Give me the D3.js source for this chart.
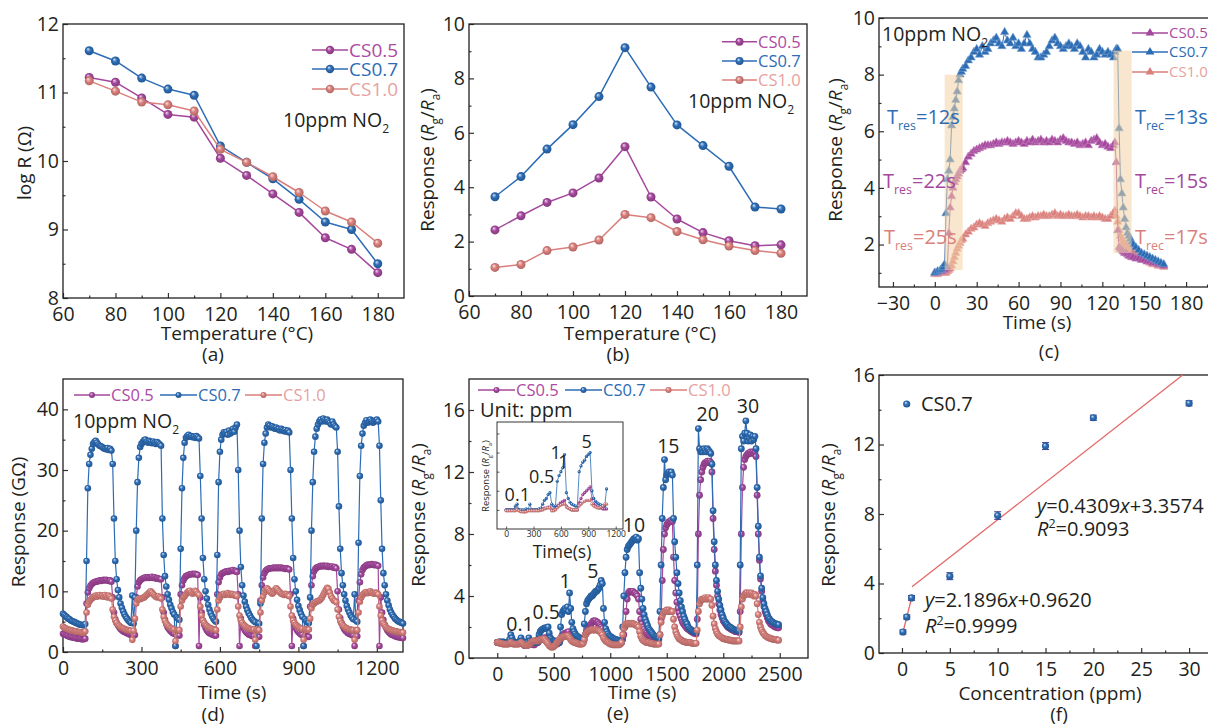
<!DOCTYPE html>
<html lang="en">
<head>
<meta charset="UTF-8">
<title>NO2 sensing panels</title>
<script src="https://d3js.org/d3.v7.min.js"></script>
<style>
  body { margin: 0; background: #fff; }
  svg { display: block; font-family: "Open Sans", sans-serif; }
  .tick text { font-family: "Open Sans", sans-serif; font-size: 19.5px; fill: #231f20; }
  .tick line { stroke: #333; stroke-width: 1.2; }
  .inset .tick text { font-size: 8.5px; }
  .inset .tick line { stroke-width: 0.8; }
</style>
</head>
<body>
<svg></svg>
<script>
// ---------- data ----------
var seriesNames = ["CS0.5", "CS0.7", "CS1.0"];

// (a) log R vs temperature, (b) response vs temperature
var tempC = [70, 80, 90, 100, 110, 120, 130, 140, 150, 160, 170, 180];
var logR_CS05 = [11.22, 11.15, 10.92, 10.68, 10.64, 10.04, 9.79, 9.52, 9.25, 8.88, 8.71, 8.37];
var logR_CS07 = [11.61, 11.46, 11.21, 11.05, 10.96, 10.22, 9.98, 9.74, 9.44, 9.11, 9.00, 8.50];
var logR_CS10 = [11.17, 11.02, 10.86, 10.82, 10.73, 10.17, 9.98, 9.77, 9.54, 9.27, 9.11, 8.80];
var resp_CS05 = [2.43, 2.95, 3.44, 3.79, 4.34, 5.49, 3.64, 2.83, 2.33, 2.03, 1.85, 1.88];
var resp_CS07 = [3.65, 4.39, 5.40, 6.30, 7.33, 9.13, 7.68, 6.29, 5.53, 4.77, 3.27, 3.20];
var resp_CS10 = [1.05, 1.16, 1.67, 1.80, 2.06, 3.00, 2.88, 2.37, 2.07, 1.84, 1.67, 1.57];

// (c) single response/recovery cycle, 10 ppm
var cTime = [0, 2, 4, 5, 6, 7, 8, 9, 10, 11, 12, 13, 14, 15, 16, 17, 18, 19, 20,
  22, 24, 26, 28, 30, 32, 34, 36, 38, 40, 42, 44, 46, 48, 50, 52, 54, 56, 58, 60,
  62, 64, 66, 68, 70, 72, 74, 76, 78, 80, 82, 84, 86, 88, 90, 92, 94, 96, 98, 100,
  102, 104, 106, 108, 110, 112, 114, 116, 118, 120, 122, 124, 126,
  128, 129, 130, 131, 132, 133, 134, 135, 136, 137, 138, 139, 140, 141, 142,
  144, 146, 148, 150, 152, 154, 156, 158, 160, 162, 164];
var c_CS07 = [1.0, 1.05, 1.1, 1.15, 1.2, 1.3, 3.1, 4.3, 4.6, 5.0, 6.2, 6.5, 6.8, 7.1, 7.4, 7.8, 8.0, 8.1, 8.2,
  8.3, 8.5, 8.6, 8.8, 8.9, 8.7, 9.0, 8.8, 8.9, 9.1, 9.2, 9.3, 9.1, 9.0, 9.5, 9.2, 9.1, 9.3, 9.0, 9.1,
  8.9, 9.1, 9.4, 9.1, 8.9, 8.8, 8.6, 8.6, 8.7, 8.8, 9.0, 9.2, 9.3, 9.1, 9.0, 8.9, 9.0, 9.1, 9.0, 8.9,
  9.1, 9.0, 8.8, 8.6, 8.9, 8.8, 8.6, 8.7, 8.9, 8.8, 8.7, 8.8, 8.7,
  8.6, 8.8, 8.9, 8.9, 6.1, 4.3, 3.8, 3.3, 2.9, 2.6, 2.4, 2.3, 2.2, 2.1, 2.0,
  1.9, 1.8, 1.7, 1.65, 1.6, 1.55, 1.5, 1.45, 1.4, 1.35, 1.3];
var c_CS05 = [1.0, 1.0, 1.05, 1.05, 1.1, 1.1, 1.15, 1.2, 2.4, 3.3, 3.7, 4.0, 4.2, 4.3, 4.4, 4.5, 4.6, 4.65, 4.7,
  4.9, 5.1, 5.2, 5.3, 5.35, 5.4, 5.45, 5.5, 5.5, 5.5, 5.55, 5.6, 5.55, 5.6, 5.6, 5.65, 5.6, 5.55, 5.6, 5.65,
  5.6, 5.55, 5.65, 5.6, 5.7, 5.6, 5.65, 5.7, 5.6, 5.65, 5.6, 5.7, 5.65, 5.6, 5.7, 5.75, 5.65, 5.6, 5.6, 5.55,
  5.6, 5.5, 5.55, 5.6, 5.5, 5.65, 5.7, 5.75, 5.6, 5.5, 5.55, 5.45, 5.4,
  5.5, 5.6, 4.9, 2.5, 1.9, 1.85, 1.8, 1.75, 1.7, 1.7, 1.65, 1.6, 1.6, 1.55, 1.55,
  1.5, 1.5, 1.45, 1.45, 1.4, 1.4, 1.35, 1.35, 1.3, 1.3, 1.25];
var c_CS10 = [0.95, 0.95, 1.0, 1.0, 1.0, 1.0, 1.0, 1.05, 1.1, 1.15, 1.25, 1.4, 1.55, 1.7, 1.85, 1.95, 2.05, 2.15, 2.2,
  2.35, 2.45, 2.55, 2.6, 2.7, 2.75, 2.7, 2.65, 2.75, 2.8, 2.85, 2.9, 2.85, 2.8, 2.9, 2.95, 2.9, 3.0, 3.1, 3.1,
  3.0, 2.9, 2.9, 2.95, 3.0, 2.95, 3.0, 3.0, 3.05, 3.0, 3.0, 3.05, 3.1, 3.0, 3.05, 3.0, 3.0, 3.05, 3.0, 3.0,
  3.05, 3.0, 2.95, 3.0, 3.0, 2.95, 3.0, 2.95, 3.0, 2.95, 2.9, 2.9, 3.0,
  3.1, 3.2, 3.0, 2.8, 2.5, 2.3, 2.2, 2.1, 2.05, 2.0, 1.95, 1.9, 1.85, 1.8, 1.75,
  1.65, 1.6, 1.5, 1.45, 1.4, 1.35, 1.3, 1.3, 1.25, 1.25, 1.2];
var cWindows = [[7, 20, 1.1, 8.0], [128, 141, 1.7, 8.85]];   // t0, t1, y0, y1

// (d) repeated cycles, sampled every dStep seconds from 0
var dStep = 5;
var d_CS07 = [
  6.3, 6.1, 5.9, 5.7, 5.5, 5.4, 5.2, 5.1, 5.0, 4.9, 4.8, 4.7, 4.6, 4.5, 4.5, 4.4, 4.4, 4.6, 15.0, 27.0,
  31.0, 32.5, 33.5, 34.3, 34.6, 34.8, 34.5, 34.2, 34.0, 33.9, 33.8, 33.6, 33.5, 33.4, 33.6, 33.3, 33.5, 33.2, 31.0, 22.0,
  15.0, 12.0, 10.2, 9.0, 8.0, 7.3, 6.7, 6.2, 5.8, 5.5, 5.2, 5.0, 4.8, 9.3, 4.7, 9.0, 20.0, 28.0, 32.0, 33.8,
  34.3, 34.6, 34.9, 35.0, 34.7, 34.5, 34.8, 34.6, 34.4, 34.7, 34.5, 34.3, 34.6, 34.4, 34.2, 34.0, 22.0, 16.0, 12.5, 10.8,
  9.5, 8.6, 7.8, 7.2, 6.6, 6.2, 1.0, 5.7, 5.5, 5.3, 17.0, 27.0, 32.0, 34.5, 35.3, 35.6, 35.8, 35.5, 35.6, 35.4,
  35.5, 35.3, 35.6, 35.4, 35.2, 29.0, 22.0, 15.5, 12.0, 10.0, 8.8, 7.8, 7.0, 6.4, 5.9, 5.5, 5.2, 5.0, 16.0, 28.0,
  33.0, 35.0, 35.8, 36.2, 36.0, 36.3, 35.8, 36.5, 36.0, 36.4, 36.8, 36.3, 37.0, 37.5, 30.0, 20.0, 14.0, 11.0, 9.3, 8.3,
  7.5, 6.9, 6.4, 6.0, 5.6, 5.3, 5.1, 4.9, 1.0, 4.8, 4.7, 8.0, 22.0, 31.0, 34.5, 36.0, 37.0, 37.5, 37.3, 37.0,
  37.2, 37.0, 36.8, 37.0, 36.7, 36.8, 36.5, 36.8, 36.6, 36.4, 36.6, 36.3, 36.5, 36.2, 30.0, 22.0, 15.5, 12.0, 10.0, 8.6,
  7.6, 6.9, 6.3, 5.8, 1.0, 5.4, 5.1, 4.9, 4.8, 9.0, 20.0, 28.0, 33.0, 35.5, 36.8, 37.5, 38.0, 38.3, 38.0, 38.5,
  38.2, 38.0, 38.3, 38.0, 37.8, 37.5, 38.0, 37.5, 37.2, 37.0, 33.0, 24.0, 17.0, 13.0, 11.0, 9.5, 8.5, 7.6, 7.0, 6.5,
  6.0, 5.7, 5.4, 9.5, 5.2, 5.0, 18.0, 29.0, 34.0, 36.0, 37.3, 37.8, 38.2, 37.8, 38.0, 38.3, 38.0, 37.8, 38.0, 38.2,
  38.3, 38.0, 34.0, 25.0, 17.0, 13.0, 11.0, 9.5, 8.5, 7.7, 7.0, 6.5, 6.1, 5.8, 5.5, 5.3, 5.1, 5.0, 4.9, 4.8,
  4.7];
var d_CS05 = [
  3.0, 2.9, 2.8, 2.7, 2.6, 2.5, 2.5, 2.4, 2.4, 2.3, 2.3, 2.2, 2.2, 2.2, 2.1, 2.1, 2.1, 2.2, 8.0, 9.8,
  10.5, 10.9, 11.2, 11.4, 11.5, 11.6, 11.6, 11.7, 11.8, 11.7, 11.8, 11.9, 11.8, 11.9, 11.8, 11.7, 11.8, 11.6, 9.0, 6.5,
  5.4, 4.8, 4.4, 4.1, 3.8, 3.6, 3.4, 3.3, 3.2, 3.1, 3.0, 2.9, 2.8, 2.8, 2.7, 2.8, 9.0, 10.8, 11.5, 11.8,
  12.0, 12.1, 12.2, 12.3, 12.2, 12.3, 12.2, 12.3, 12.4, 12.2, 12.3, 12.1, 12.2, 12.1, 12.0, 12.0, 9.0, 6.5, 5.3, 4.6,
  4.1, 3.8, 3.5, 3.3, 3.1, 3.0, 1.0, 2.9, 2.8, 2.7, 9.5, 11.0, 11.8, 12.2, 12.5, 12.6, 12.7, 12.8, 12.8, 12.9,
  12.8, 12.9, 12.8, 12.7, 1.0, 9.0, 6.5, 5.2, 4.5, 4.0, 3.6, 3.3, 3.1, 3.0, 2.9, 2.8, 2.7, 2.7, 9.5, 11.5,
  12.3, 12.8, 13.0, 13.1, 13.2, 13.3, 13.2, 13.4, 13.3, 13.4, 13.5, 13.3, 13.4, 13.2, 9.5, 1.0, 5.5, 4.6, 4.0, 3.6,
  3.3, 3.1, 2.9, 2.8, 2.7, 2.6, 2.6, 1.0, 2.5, 2.5, 2.5, 8.5, 11.0, 12.3, 13.0, 13.4, 13.6, 13.7, 13.8, 13.8,
  13.8, 13.9, 13.8, 13.9, 13.8, 13.9, 13.8, 13.9, 13.8, 13.8, 13.7, 13.8, 13.7, 13.6, 9.5, 1.0, 5.5, 4.6, 4.0, 3.6,
  3.3, 3.1, 2.9, 2.8, 1.0, 2.7, 2.6, 2.5, 2.5, 7.5, 11.0, 12.5, 13.3, 13.7, 13.9, 14.0, 14.1, 14.2, 14.1, 14.2,
  14.2, 14.1, 14.2, 14.0, 14.1, 14.0, 14.1, 13.9, 14.0, 13.8, 10.0, 7.0, 5.6, 4.8, 4.2, 3.8, 3.5, 3.3, 3.1, 3.0,
  2.9, 2.8, 2.7, 1.0, 2.7, 2.6, 8.5, 11.5, 12.8, 13.5, 13.9, 14.1, 14.3, 14.4, 14.3, 14.4, 14.5, 14.4, 14.3, 14.4,
  14.3, 14.2, 1.0, 9.0, 6.5, 5.3, 4.5, 4.0, 3.6, 3.3, 3.1, 2.9, 2.8, 2.7, 2.6, 2.5, 2.5, 2.4, 2.4, 2.3,
  2.3];
var d_CS10 = [
  4.2, 4.0, 3.9, 3.8, 3.7, 3.6, 3.6, 3.5, 3.5, 3.4, 3.4, 3.3, 3.3, 3.3, 3.2, 3.2, 3.2, 3.4, 6.5, 7.8,
  8.3, 8.6, 8.8, 9.0, 9.2, 9.3, 9.1, 9.3, 9.4, 9.2, 9.3, 9.1, 9.4, 9.2, 9.0, 9.3, 9.1, 8.8, 7.0, 5.8,
  5.2, 4.8, 4.5, 4.3, 4.1, 4.0, 3.9, 3.8, 3.7, 3.6, 3.6, 3.5, 3.5, 2.0, 3.5, 5.5, 8.0, 8.6, 8.8, 8.7,
  8.8, 8.9, 9.0, 9.2, 9.4, 9.6, 9.8, 10.0, 9.8, 9.5, 9.3, 9.1, 9.0, 9.2, 9.0, 8.8, 7.0, 5.8, 5.1, 4.7,
  4.4, 4.2, 4.0, 3.9, 3.8, 3.7, 1.8, 3.6, 3.6, 3.6, 7.5, 8.5, 9.0, 9.2, 9.5, 9.8, 10.0, 10.1, 9.8, 9.6,
  9.8, 10.1, 9.9, 9.6, 9.4, 7.5, 6.0, 5.2, 4.8, 4.5, 4.3, 4.1, 4.0, 3.9, 3.8, 3.7, 3.7, 3.6, 7.0, 8.5,
  9.0, 9.3, 9.5, 9.6, 9.4, 9.5, 9.7, 9.5, 9.4, 9.6, 9.5, 9.3, 9.4, 9.2, 7.5, 6.0, 5.2, 4.8, 4.5, 4.3,
  4.1, 4.0, 3.9, 3.8, 3.8, 3.7, 3.7, 2.0, 3.7, 3.6, 3.6, 6.5, 8.5, 9.2, 9.8, 10.2, 10.5, 10.3, 10.0, 9.8,
  9.6, 9.8, 10.2, 10.5, 10.3, 10.0, 9.8, 9.6, 9.5, 9.4, 9.6, 9.5, 9.3, 9.2, 7.5, 6.0, 5.2, 4.8, 4.5, 4.3,
  4.1, 4.0, 3.9, 3.8, 2.0, 3.8, 3.7, 3.7, 3.7, 5.5, 7.2, 7.8, 8.0, 8.2, 8.3, 8.4, 8.5, 8.7, 9.0, 9.4,
  9.8, 10.2, 10.6, 10.4, 9.8, 9.2, 8.8, 8.5, 8.4, 8.2, 7.0, 5.8, 5.1, 4.7, 4.4, 4.2, 4.0, 3.9, 3.8, 3.7,
  3.7, 3.6, 3.6, 2.0, 3.6, 3.6, 6.5, 8.3, 9.0, 9.4, 9.6, 9.8, 9.9, 9.7, 9.8, 10.0, 9.8, 9.7, 9.6, 9.8,
  9.7, 9.5, 7.5, 6.0, 5.2, 4.7, 4.4, 4.1, 3.9, 3.8, 3.7, 3.6, 3.5, 3.5, 3.4, 3.4, 3.3, 3.3, 3.3, 3.2,
  3.2];

// (e) increasing concentrations, sampled every eStep seconds from 0
var eStep = 10;
var e_CS07 = [
  1.0, 1.0, 1.05, 1.0, 1.0, 1.05, 1.0, 1.0, 1.0, 1.0, 1.05, 1.2, 1.5, 1.3, 1.1, 1.0, 1.0, 1.0, 1.0, 1.0,
  1.1, 1.3, 1.1, 1.0, 1.0, 1.0, 1.0, 1.05, 1.3, 1.1, 1.0, 1.0, 1.0, 1.0, 1.0, 1.0, 1.2, 1.5, 1.7, 1.8,
  1.85, 1.9, 1.95, 1.95, 1.9, 2.0, 1.6, 1.3, 1.2, 1.1, 1.1, 1.1, 1.05, 1.0, 1.0, 1.0, 2.0, 2.8, 3.0, 3.1,
  3.2, 3.1, 3.3, 3.0, 4.2, 3.2, 2.3, 1.9, 1.7, 1.55, 1.45, 1.4, 1.35, 1.3, 1.25, 1.2, 1.2, 2.2, 3.0, 3.5,
  3.7, 3.8, 3.9, 4.0, 4.0, 4.1, 4.2, 4.3, 4.3, 4.4, 4.5, 4.7, 5.0, 4.8, 3.2, 2.3, 1.9, 1.7, 1.55, 1.45,
  1.4, 1.35, 1.3, 1.25, 1.2, 1.2, 1.15, 1.15, 1.1, 1.1, 1.1, 2.0, 4.0, 5.5, 6.5, 7.0, 7.2, 7.3, 7.4, 7.5,
  7.6, 7.7, 7.7, 7.8, 7.6, 7.7, 5.5, 4.5, 3.8, 3.2, 2.8, 2.5, 2.3, 2.1, 1.9, 1.8, 1.7, 1.6, 1.5, 1.4,
  1.4, 1.35, 1.3, 1.3, 3.0, 6.0, 9.0, 11.0, 12.8, 11.5, 11.8, 11.9, 12.0, 11.9, 12.0, 11.8, 9.0, 7.5, 6.5, 5.5,
  4.8, 4.2, 3.7, 3.3, 3.0, 2.7, 2.5, 2.3, 2.2, 2.0, 1.9, 1.85, 1.8, 1.75, 1.7, 1.7, 1.65, 6.0, 14.8, 13.5,
  13.3, 13.4, 13.3, 13.5, 13.4, 13.3, 13.5, 13.4, 13.3, 13.2, 12.5, 9.5, 7.5, 6.0, 5.0, 4.3, 3.8, 3.4, 3.1, 2.8,
  2.6, 2.4, 2.3, 2.2, 2.1, 2.0, 2.0, 1.95, 1.9, 1.85, 1.8, 1.8, 1.8, 1.8, 1.75, 6.0, 13.5, 14.3, 14.0, 14.5,
  15.3, 14.5, 14.0, 14.2, 14.4, 14.0, 14.3, 14.1, 14.3, 13.5, 11.0, 8.5, 6.5, 5.3, 4.5, 3.9, 3.5, 3.2, 3.0, 2.8,
  2.6, 2.5, 2.4, 2.35, 2.3, 2.25, 2.2, 2.2, 2.15, 2.15];
var e_CS05 = [
  1.0, 1.0, 1.0, 1.0, 1.0, 1.0, 1.0, 1.0, 1.0, 1.0, 1.0, 1.05, 1.1, 1.05, 1.0, 1.0, 0.95, 0.95, 1.0, 1.0,
  1.0, 1.0, 1.0, 0.9, 0.8, 0.8, 0.8, 0.9, 1.0, 1.0, 1.0, 0.9, 0.85, 0.85, 1.0, 1.0, 1.0, 1.1, 1.2, 1.2,
  1.25, 1.3, 1.3, 1.3, 1.3, 1.3, 1.2, 1.1, 1.0, 0.95, 0.9, 0.9, 0.9, 0.9, 0.95, 1.0, 1.2, 1.4, 1.5, 1.55,
  1.6, 1.6, 1.65, 1.7, 1.5, 1.3, 1.2, 1.15, 1.1, 1.05, 1.0, 1.0, 1.0, 1.0, 1.0, 1.0, 1.0, 1.2, 1.5, 1.7,
  1.9, 2.0, 2.1, 2.2, 2.3, 2.4, 2.4, 2.4, 2.3, 2.3, 2.2, 2.1, 2.0, 1.9, 1.6, 1.4, 1.3, 1.25, 1.2, 1.15,
  1.1, 1.1, 1.05, 1.05, 1.0, 1.0, 1.0, 1.0, 1.0, 1.0, 1.0, 1.2, 1.5, 2.0, 3.0, 3.8, 4.2, 4.3, 4.3, 4.3,
  4.3, 4.2, 4.2, 4.1, 4.0, 3.8, 3.0, 2.5, 2.2, 2.0, 1.85, 1.7, 1.6, 1.5, 1.45, 1.4, 1.35, 1.3, 1.3, 1.25,
  1.25, 1.2, 1.2, 1.2, 1.5, 2.5, 5.0, 7.0, 8.0, 8.4, 8.6, 8.7, 8.8, 8.8, 8.9, 8.8, 6.5, 5.0, 4.2, 3.6,
  3.2, 2.9, 2.7, 2.5, 2.3, 2.2, 2.1, 2.0, 1.9, 1.85, 1.8, 1.75, 1.7, 1.65, 1.6, 1.6, 1.55, 2.5, 8.0, 10.5,
  11.5, 12.0, 12.3, 12.5, 12.6, 12.6, 12.7, 12.6, 12.7, 12.6, 12.0, 9.0, 7.0, 5.6, 4.7, 4.0, 3.5, 3.1, 2.8, 2.6,
  2.4, 2.3, 2.2, 2.1, 2.0, 1.95, 1.9, 1.85, 1.8, 1.8, 1.75, 1.7, 1.7, 1.7, 1.65, 3.0, 8.0, 11.0, 12.3, 12.8,
  13.0, 13.1, 13.2, 13.2, 13.3, 13.2, 13.3, 13.2, 13.3, 13.0, 10.5, 8.0, 6.3, 5.1, 4.3, 3.7, 3.3, 3.0, 2.8, 2.6,
  2.4, 2.3, 2.2, 2.15, 2.1, 2.05, 2.0, 2.0, 1.95, 1.95];
var e_CS10 = [
  1.0, 1.0, 0.95, 0.95, 0.95, 0.9, 0.9, 0.9, 0.9, 0.9, 0.9, 0.95, 1.0, 0.95, 0.9, 0.9, 0.9, 0.9, 0.9, 0.9,
  0.95, 1.0, 0.95, 0.9, 0.85, 0.8, 0.8, 0.8, 0.85, 0.9, 1.0, 1.05, 1.1, 1.1, 1.1, 1.1, 1.1, 1.15, 1.2, 1.2,
  1.2, 1.25, 1.2, 1.1, 1.0, 0.9, 0.8, 0.75, 0.7, 0.7, 0.75, 0.8, 0.9, 1.0, 1.1, 1.2, 1.3, 1.3, 1.35, 1.4,
  1.4, 1.4, 1.45, 1.4, 1.3, 1.2, 1.1, 1.05, 1.0, 1.0, 0.95, 0.95, 0.9, 0.9, 0.9, 0.9, 0.95, 1.2, 1.5, 1.6,
  1.7, 1.75, 1.8, 1.8, 1.85, 1.8, 1.8, 1.85, 1.8, 1.8, 1.75, 1.7, 1.6, 1.5, 1.3, 1.2, 1.1, 1.05, 1.0, 0.95,
  0.9, 0.9, 0.85, 0.85, 0.85, 0.85, 0.85, 0.85, 0.85, 0.9, 1.0, 1.5, 1.9, 2.1, 2.2, 2.2, 2.25, 2.2, 2.2, 2.25,
  2.2, 2.2, 2.15, 2.1, 2.1, 2.0, 1.7, 1.4, 1.25, 1.15, 1.1, 1.05, 1.0, 1.0, 1.0, 0.95, 0.95, 0.95, 0.9, 0.9,
  0.9, 0.9, 0.9, 0.9, 1.5, 2.3, 2.7, 2.9, 3.0, 3.0, 3.1, 3.0, 3.1, 3.0, 3.0, 3.0, 2.5, 2.0, 1.7, 1.5,
  1.35, 1.25, 1.2, 1.15, 1.1, 1.05, 1.05, 1.0, 1.0, 1.0, 1.0, 1.0, 0.95, 0.95, 0.95, 0.95, 0.95, 1.8, 3.0, 3.5,
  3.7, 3.8, 3.8, 3.8, 3.9, 3.8, 3.8, 3.9, 3.8, 3.8, 3.4, 2.7, 2.2, 1.9, 1.7, 1.55, 1.45, 1.4, 1.35, 1.3,
  1.25, 1.25, 1.2, 1.2, 1.2, 1.15, 1.15, 1.15, 1.1, 1.1, 1.1, 1.1, 1.1, 1.1, 1.1, 2.0, 3.3, 3.8, 4.0, 4.1,
  4.2, 4.2, 4.1, 4.2, 4.1, 4.2, 4.1, 4.0, 4.1, 4.0, 3.5, 2.8, 2.3, 2.0, 1.8, 1.65, 1.55, 1.45, 1.4, 1.35,
  1.3, 1.3, 1.25, 1.25, 1.2, 1.2, 1.2, 1.2, 1.15, 1.15];
var eLabelText = ["0.1", "0.5", "1", "5", "10", "15", "20", "30"];
var eLabelTime = [201, 434, 600, 845, 1210, 1514, 1862, 2219];
var eLabelResp = [1.74, 2.5, 4.54, 5.18, 8.15, 13.25, 15.29, 15.83];

// (e) inset: low concentrations, sampled every insetStep seconds from 0
var insetStep = 20;
var inset_CS07 = [1.0, 1.0, 1.0, 1.0, 1.0, 1.2, 1.3, 1.0, 1.0, 1.0,
  1.0, 1.05, 1.0, 1.3, 1.0, 1.0, 1.0, 1.0, 1.05, 1.1,
  1.3, 1.5, 1.6, 1.8, 1.9, 1.3, 1.2, 1.2, 2.5, 2.8,
  3.0, 3.2, 3.9, 1.9, 1.6, 1.4, 1.3, 1.25, 1.2, 1.2,
  3.0, 3.3, 3.5, 3.6, 3.8, 3.9, 4.0, 2.0, 1.6, 1.45,
  1.35, 1.3, 1.25, 1.2, 1.2, 2.1];
var inset_CS05 = [1.0, 1.0, 1.0, 1.0, 1.0, 1.0, 1.05, 1.0, 0.95, 0.95,
  0.9, 0.95, 1.0, 1.0, 1.0, 1.0, 1.0, 1.0, 1.0, 1.0,
  1.05, 1.1, 1.1, 1.15, 1.15, 1.0, 1.0, 1.05, 1.2, 1.3,
  1.4, 1.45, 1.5, 1.2, 1.1, 1.05, 1.0, 1.0, 1.0, 1.0,
  1.4, 1.6, 1.8, 1.9, 2.0, 2.1, 2.2, 1.6, 1.3, 1.2,
  1.15, 1.1, 1.1, 1.05, 1.05, 1.05];
var inset_CS10 = [0.95, 0.95, 0.95, 0.95, 0.95, 0.95, 1.0, 0.95, 0.9, 0.9,
  0.9, 0.9, 0.95, 0.95, 0.95, 0.95, 0.95, 0.95, 0.95, 1.0,
  1.0, 1.05, 1.1, 1.1, 1.1, 0.95, 0.95, 1.0, 1.1, 1.2,
  1.25, 1.3, 1.3, 1.15, 1.1, 1.05, 1.0, 1.0, 1.0, 1.0,
  1.2, 1.3, 1.4, 1.45, 1.5, 1.5, 1.5, 1.3, 1.2, 1.15,
  1.1, 1.1, 1.15, 1.2, 1.3, 1.3];
var insetLabelText = ["0.1", "0.5", "1", "1", "5"];
var insetLabelTime = [122, 390, 543, 626, 882];
var insetLabelResp = [1.47, 2.42, 3.65, 3.21, 4.26];

// (f) response vs concentration with linear fits
var fConc = [0.1, 0.5, 1, 5, 10, 15, 20, 30];
var fResp = [1.21, 2.07, 3.17, 4.42, 7.91, 11.91, 13.54, 14.37];
var fErr = [0.12, 0.12, 0.14, 0.2, 0.22, 0.2, 0.15, 0.15];
var fitSlope = [2.1896, 0.4309];
var fitIntercept = [0.9620, 3.3574];
var fitFrom = [0.1, 1.05];
var fitTo = [1.0, 29.34];

// tick values
var tempTicks = [60, 80, 100, 120, 140, 160, 180], tempMinor = [70, 90, 110, 130, 150, 170];
var aYTicks = [8, 9, 10, 11, 12], aYMinor = [8.5, 9.5, 10.5, 11.5];
var bYTicks = [0, 2, 4, 6, 8, 10], bYMinor = [1, 3, 5, 7, 9];
var cXTicks = [-30, 0, 30, 60, 90, 120, 150, 180], cXMinor = [-15, 15, 45, 75, 105, 135, 165, 195];
var cYTicks = [2, 4, 6, 8, 10], cYMinor = [1, 3, 5, 7, 9];
var dXTicks = [0, 300, 600, 900, 1200], dXMinor = [150, 450, 750, 1050];
var dYTicks = [0, 10, 20, 30, 40], dYMinor = [5, 15, 25, 35];
var eXTicks = [0, 500, 1000, 1500, 2000, 2500], eXMinor = [250, 750, 1250, 1750, 2250];
var eYTicks = [0, 4, 8, 12, 16], eYMinor = [2, 6, 10, 14];
var insetXTicks = [0, 300, 600, 900, 1200], insetYTicks = [1, 2, 3, 4, 5];
var fXTicks = [0, 5, 10, 15, 20, 25, 30], fXMinor = [2.5, 7.5, 12.5, 17.5, 22.5, 27.5];
var fYTicks = [0, 4, 8, 12, 16], fYMinor = [2, 6, 10, 14];

// ---------- drawing ----------
var ink = "#231f20";
var col = ["#a5479d", "#2c6cb5", "#da7f7b"];          // CS0.5, CS0.7, CS1.0
var txtCol = ["#ac4aa3", "#2c6cb5", "#e6a2a0"];
var svg = d3.select("svg").attr("width", 1208).attr("height", 726);
svg.append("rect").attr("width", 1208).attr("height", 726).attr("fill", "#fff");

var defs = svg.append("defs");
col.forEach(function(c, i) {
  var gr = defs.append("radialGradient").attr("id", "ball" + i)
    .attr("cx", "50%").attr("cy", "50%").attr("r", "55%").attr("fx", "35%").attr("fy", "30%");
  gr.append("stop").attr("offset", "0%").attr("stop-color", d3.interpolateRgb(c, "#fff")(0.8));
  gr.append("stop").attr("offset", "45%").attr("stop-color", c);
  gr.append("stop").attr("offset", "100%").attr("stop-color", d3.color(c).darker(0.7));
});

var fmt = d3.format("d");

function makePanel(p) {
  var x = d3.scaleLinear().domain(p.xd).range([p.l, p.r]);
  var y = d3.scaleLinear().domain(p.yd).range([p.b, p.t]);
  var g = svg.append("g").attr("class", p.cls || null);
  var major = p.major || 5, minor = p.minor || 2.5;
  var noDomain = function(s) { s.select(".domain").remove(); };
  if (p.fill) g.append("rect").attr("x", p.l).attr("y", p.t).attr("width", p.r - p.l)
    .attr("height", p.b - p.t).attr("fill", p.fill);
  if (p.xm) g.append("g").attr("transform", "translate(0," + p.b + ")")
    .call(d3.axisBottom(x).tickValues(p.xm).tickSize(-minor).tickFormat("")).call(noDomain);
  if (p.ym) g.append("g").attr("transform", "translate(" + p.l + ",0)")
    .call(d3.axisLeft(y).tickValues(p.ym).tickSize(-minor).tickFormat("")).call(noDomain);
  g.append("g").attr("transform", "translate(0," + p.b + ")")
    .call(d3.axisBottom(x).tickValues(p.xt).tickSize(-major).tickPadding(p.xpad || 9).tickFormat(fmt))
    .call(noDomain);
  g.append("g").attr("transform", "translate(" + p.l + ",0)")
    .call(d3.axisLeft(y).tickValues(p.yt).tickSize(-major).tickPadding(p.ypad || 4)
      .tickFormat(p.noYLabels ? "" : fmt)).call(noDomain);
  g.append("rect").attr("x", p.l).attr("y", p.t).attr("width", p.r - p.l).attr("height", p.b - p.t)
    .attr("fill", "none").attr("stroke", ink).attr("stroke-width", p.bw || 1.3);
  return { g: g, x: x, y: y };
}

// text with italic / subscript / superscript pieces: [text, flag] flag: "i", "_", "^"
function rich(g, x, y, size, parts, color, anchor, transform) {
  var t = g.append("text").attr("font-size", size).attr("fill", color || ink)
    .attr("text-anchor", anchor || "start");
  if (transform) t.attr("transform", transform); else t.attr("x", x).attr("y", y);
  var shift = 0;
  parts.forEach(function(p) {
    var f = p[1] || "";
    var target = f === "_" ? size * 0.3 : f === "^" ? -size * 0.38 : 0;
    var ts = t.append("tspan").text(p[0]).attr("dy", target - shift);
    shift = target;
    if (f === "_" || f === "^") ts.attr("font-size", size * 0.62);
    if (f === "i") ts.attr("font-style", "italic");
  });
  return t;
}

function plain(g, x, y, size, str, anchor, color) {
  return g.append("text").attr("x", x).attr("y", y).attr("font-size", size)
    .attr("text-anchor", anchor || "middle").attr("fill", color || ink).text(str);
}

function drawSeries(pn, xs, ys, i, o) {
  var pts = ys.map(function(v, k) { return [xs[k], v]; });
  var c = col[i];
  pn.g.append("path").datum(pts).attr("fill", "none").attr("stroke", c)
    .attr("stroke-width", o.lw).attr("stroke-linejoin", "round")
    .attr("d", d3.line().x(function(d) { return pn.x(d[0]); }).y(function(d) { return pn.y(d[1]); }));
  if (o.tri) {
    pn.g.selectAll(null).data(pts).enter().append("path")
      .attr("d", d3.symbol().type(d3.symbolTriangle).size(o.size))
      .attr("transform", function(d) { return "translate(" + pn.x(d[0]) + "," + pn.y(d[1]) + ")"; })
      .attr("fill", c).attr("stroke", d3.interpolateRgb(c, "#fff")(0.35)).attr("stroke-width", 0.6);
  } else {
    pn.g.selectAll(null).data(pts).enter().append("circle")
      .attr("cx", function(d) { return pn.x(d[0]); })
      .attr("cy", function(d) { return pn.y(d[1]); })
      .attr("r", o.r).attr("fill", "url(#ball" + i + ")");
  }
}

function legendItem(g, x1, x2, y, i, size, tri, r) {
  g.append("line").attr("x1", x1).attr("x2", x2).attr("y1", y).attr("y2", y)
    .attr("stroke", col[i]).attr("stroke-width", 1.5);
  if (tri) {
    g.append("path").attr("d", d3.symbol().type(d3.symbolTriangle).size(34)())
      .attr("transform", "translate(" + (x1 + x2) / 2 + "," + y + ")").attr("fill", col[i]);
  } else {
    g.append("circle").attr("cx", (x1 + x2) / 2).attr("cy", y).attr("r", r || 3.8)
      .attr("fill", "url(#ball" + i + ")");
  }
  g.append("text").attr("x", x2 + 1).attr("y", y).attr("dy", "0.36em").attr("font-size", size)
    .attr("fill", txtCol[i]).text(seriesNames[i]);
}

var respParts = [["Response ("], ["R", "i"], ["g", "_"], ["/"], ["R", "i"], ["a", "_"], [")"]];
var no2Parts = [["10ppm NO"], ["2", "_"]];

// ----- (a) -----
var A = makePanel({ l: 63, r: 404, t: 24, b: 298, xd: [60, 190], yd: [8, 12],
  xt: tempTicks, xm: tempMinor, yt: aYTicks, ym: aYMinor });
[logR_CS05, logR_CS07, logR_CS10].forEach(function(s, i) { drawSeries(A, tempC, s, i, { lw: 1.5, r: 4.5 }); });
[50, 69, 89].forEach(function(yy, i) { legendItem(A.g, 312, 348, yy, i, 19, false, 4.2); });
rich(A.g, 283, 127, 19.5, no2Parts);
rich(A.g, 0, 0, 19, [["log R (Ω)"]], ink, "middle", "translate(31,163) rotate(-90)");
plain(A.g, 237, 340, 19, "Temperature (°C)");
plain(A.g, 213, 361, 19, "(a)");

// ----- (b) -----
var B = makePanel({ l: 469, r: 807, t: 24, b: 296, xd: [60, 190], yd: [0, 10],
  xt: tempTicks, xm: tempMinor, yt: bYTicks, ym: bYMinor });
[resp_CS05, resp_CS07, resp_CS10].forEach(function(s, i) { drawSeries(B, tempC, s, i, { lw: 1.5, r: 4.5 }); });
[41.7, 61, 80].forEach(function(yy, i) { legendItem(B.g, 722, 757, yy, i, 16.5, false, 4); });
rich(B.g, 688, 108, 19.5, no2Parts);
rich(B.g, 0, 0, 19, respParts, ink, "middle", "translate(434,160) rotate(-90)");
plain(B.g, 640, 340, 19, "Temperature (°C)");
plain(B.g, 618, 361, 19, "(b)");

// ----- (c) -----
var C = makePanel({ l: 879, r: 1214, t: 18, b: 287, xd: [-40, 200], yd: [0.5, 10],
  xt: cXTicks, xm: cXMinor, yt: cYTicks, ym: cYMinor });
[c_CS10, c_CS05, c_CS07].forEach(function(s, k) {
  var i = [2, 0, 1][k];
  drawSeries(C, cTime, s, i, { lw: 1, tri: true, size: 30 });
});
C.g.selectAll(null).data(cWindows).enter().append("rect")
  .attr("x", function(d) { return C.x(d[0]); })
  .attr("y", function(d) { return C.y(d[3]); })
  .attr("width", function(d) { return C.x(d[1]) - C.x(d[0]); })
  .attr("height", function(d) { return C.y(d[2]) - C.y(d[3]); })
  .attr("fill", "#f3d4a6").attr("opacity", 0.55);
[33, 52, 72].forEach(function(yy, i) { legendItem(C.g, 1132, 1168, yy, i, 15, true); });
rich(C.g, 882, 41, 19.5, no2Parts);
rich(C.g, 887, 124, 20, [["T"], ["res", "_"], ["=12s"]], col[1]);
rich(C.g, 883, 188, 20, [["T"], ["res", "_"], ["=22s"]], col[0]);
rich(C.g, 884, 244, 20, [["T"], ["res", "_"], ["=25s"]], col[2]);
rich(C.g, 1135, 124, 20, [["T"], ["rec", "_"], ["=13s"]], col[1]);
rich(C.g, 1135, 188, 20, [["T"], ["rec", "_"], ["=15s"]], col[0]);
rich(C.g, 1135, 244, 20, [["T"], ["rec", "_"], ["=17s"]], col[2]);
rich(C.g, 0, 0, 19, respParts, ink, "middle", "translate(842,150) rotate(-90)");
plain(C.g, 1037, 329, 19, "Time (s)");
plain(C.g, 1049, 358, 19, "(c)");

// ----- (d) -----
var D = makePanel({ l: 63, r: 403, t: 379, b: 652, xd: [0, 1300], yd: [0, 45],
  xt: dXTicks, xm: dXMinor, yt: dYTicks, ym: dYMinor });
var dTime = d_CS07.map(function(v, k) { return k * dStep; });
[d_CS05, d_CS07, d_CS10].forEach(function(s, i) { drawSeries(D, dTime, s, i, { lw: 1.2, r: 3.3 }); });
legendItem(D.g, 74, 110, 395, 0, 16.5, false, 3);
legendItem(D.g, 160, 197, 395, 1, 16.5, false, 3);
legendItem(D.g, 245, 282, 395, 2, 16.5, false, 3);
rich(D.g, 73, 428, 19.5, no2Parts);
rich(D.g, 0, 0, 19, [["Response (GΩ)"]], ink, "middle", "translate(25,522) rotate(-90)");
plain(D.g, 232, 699, 19, "Time (s)");
plain(D.g, 213, 721, 19, "(d)");

// ----- (e) -----
var E = makePanel({ l: 469, r: 808, t: 379, b: 658, xd: [-250, 2750], yd: [0, 18],
  xt: eXTicks, xm: eXMinor, yt: eYTicks, ym: eYMinor });
var eTime = e_CS07.map(function(v, k) { return k * eStep; });
[e_CS05, e_CS07, e_CS10].forEach(function(s, i) { drawSeries(E, eTime, s, i, { lw: 1.2, r: 3.4 }); });
legendItem(E.g, 478, 515, 390, 0, 16.5, false, 3);
legendItem(E.g, 565, 602, 390, 1, 16.5, false, 3);
legendItem(E.g, 650, 687, 390, 2, 16.5, false, 3);
plain(E.g, 480, 417, 20, "Unit: ppm", "start");
E.g.selectAll(null).data(eLabelText).enter().append("text")
  .attr("x", function(d, k) { return E.x(eLabelTime[k]); })
  .attr("y", function(d, k) { return E.y(eLabelResp[k]); })
  .attr("text-anchor", "middle").attr("font-size", 19.5).attr("fill", ink)
  .text(function(d) { return d; });
rich(E.g, 0, 0, 19, respParts, ink, "middle", "translate(425,515) rotate(-90)");
plain(E.g, 642, 699, 19, "Time (s)");
plain(E.g, 618, 720, 19, "(e)");

// inset
var I = makePanel({ cls: "inset", l: 497, r: 623, t: 422, b: 529, xd: [-100, 1280], yd: [0, 5.6],
  xt: insetXTicks, yt: insetYTicks, noYLabels: true, major: 2.5, xpad: 2, fill: "#fff", bw: 0.9 });
var insetTime = inset_CS07.map(function(v, k) { return k * insetStep; });
[inset_CS05, inset_CS07, inset_CS10].forEach(function(s, i) { drawSeries(I, insetTime, s, i, { lw: 0.8, r: 1.6 }); });
I.g.selectAll(null).data(insetLabelText).enter().append("text")
  .attr("x", function(d, k) { return I.x(insetLabelTime[k]); })
  .attr("y", function(d, k) { return I.y(insetLabelResp[k]); })
  .attr("text-anchor", "middle").attr("font-size", 18).attr("fill", ink)
  .text(function(d) { return d; });
rich(I.g, 0, 0, 9.5, respParts, ink, "middle", "translate(489,476) rotate(-90)");
plain(I.g, 562, 558, 17.5, "Time(s)");

// ----- (f) -----
var F = makePanel({ l: 879, r: 1213, t: 375, b: 653, xd: [-2.4, 32.5], yd: [0, 16],
  xt: fXTicks, xm: fXMinor, yt: fYTicks, ym: fYMinor });
fitSlope.forEach(function(m, k) {
  F.g.append("line")
    .attr("x1", F.x(fitFrom[k])).attr("y1", F.y(m * fitFrom[k] + fitIntercept[k]))
    .attr("x2", F.x(fitTo[k])).attr("y2", F.y(m * fitTo[k] + fitIntercept[k]))
    .attr("stroke", "#e36866").attr("stroke-width", 1.3);
});
var fPts = fConc.map(function(c, k) { return [c, fResp[k], fErr[k]]; });
var eb = F.g.selectAll(null).data(fPts).enter().append("g");
eb.append("line").attr("x1", function(d) { return F.x(d[0]); }).attr("x2", function(d) { return F.x(d[0]); })
  .attr("y1", function(d) { return F.y(d[1] - d[2]); }).attr("y2", function(d) { return F.y(d[1] + d[2]); })
  .attr("stroke", "#3d3c94").attr("stroke-width", 1);
[-1, 1].forEach(function(sg) {
  eb.append("line").attr("x1", function(d) { return F.x(d[0]) - 3.5; }).attr("x2", function(d) { return F.x(d[0]) + 3.5; })
    .attr("y1", function(d) { return F.y(d[1] + sg * d[2]); }).attr("y2", function(d) { return F.y(d[1] + sg * d[2]); })
    .attr("stroke", "#3d3c94").attr("stroke-width", 1);
});
eb.append("circle").attr("cx", function(d) { return F.x(d[0]); }).attr("cy", function(d) { return F.y(d[1]); })
  .attr("r", 3.6).attr("fill", "url(#ball1)");
F.g.append("circle").attr("cx", 906.7).attr("cy", 404).attr("r", 3.6).attr("fill", "url(#ball1)");
plain(F.g, 921, 411, 20, "CS0.7", "start");
rich(F.g, 1037, 513, 20, [["y", "i"], ["=0.4309"], ["x", "i"], ["+3.3574"]]);
rich(F.g, 1037, 536, 20, [["R", "i"], ["2", "^"], ["=0.9093"]]);
rich(F.g, 925, 607, 20, [["y", "i"], ["=2.1896"], ["x", "i"], ["+0.9620"]]);
rich(F.g, 925, 633, 20, [["R", "i"], ["2", "^"], ["=0.9999"]]);
rich(F.g, 0, 0, 19, respParts, ink, "middle", "translate(835,515) rotate(-90)");
plain(F.g, 1050, 700, 19, "Concentration (ppm)");
plain(F.g, 1059, 721, 19, "(f)");
</script>
</body>
</html>
